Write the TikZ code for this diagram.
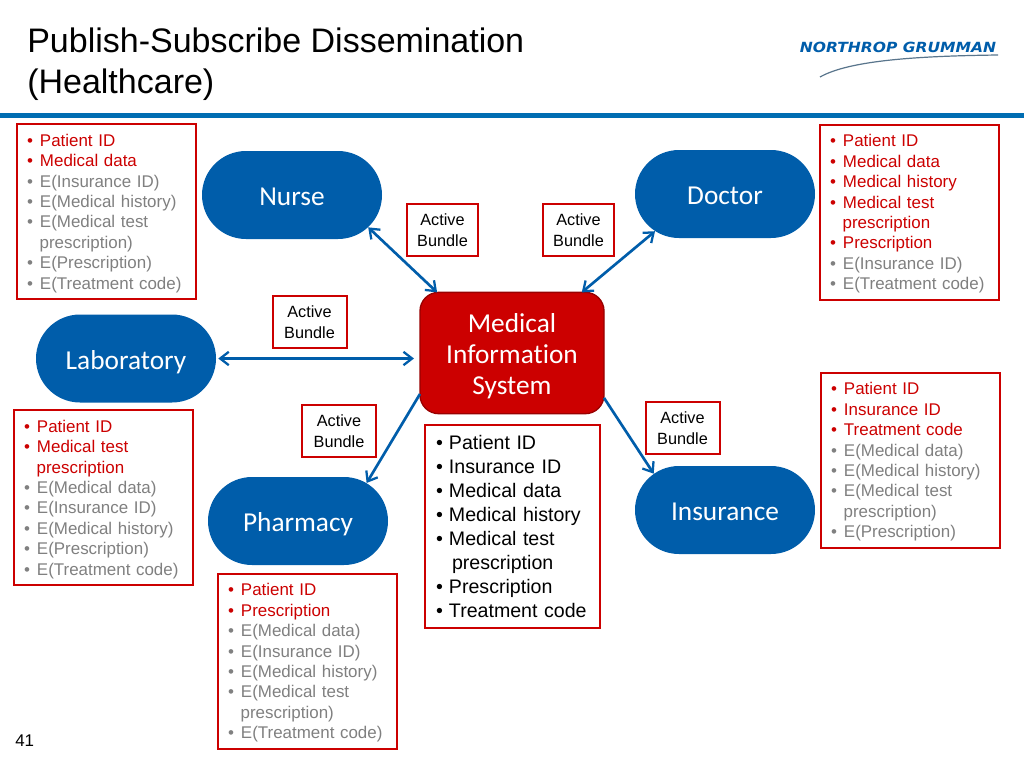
\documentclass[tikz,border=0pt]{standalone}
\usepackage{fontspec}
\setmainfont{Liberation Sans}
\newfontfamily\pillfont[Ligatures=NoCommon]{Carlito}
\newfontfamily\logofont{DejaVu Sans}
\usetikzlibrary{arrows.meta,shapes.misc}
\definecolor{ngblue}{HTML}{005DAA}
\definecolor{rulered}{HTML}{CC0000}
\definecolor{itemgray}{HTML}{808080}
\newcommand{\ri}[1]{{\color{rulered}\textbullet\hspace{5.3pt}#1}}
\newcommand{\gi}[1]{{\color{itemgray}\textbullet\hspace{5.3pt}#1}}
\newcommand{\rc}[1]{\hspace*{9.5pt}{\color{rulered}#1}}
\newcommand{\gc}[1]{\hspace*{9.5pt}{\color{itemgray}#1}}
\newcommand{\bi}[1]{\textbullet\hspace{4.6pt}#1}
\newcommand{\fl}{\rule{0pt}{11.8pt}}
\tikzset{
  pill/.style={rounded rectangle,fill=ngblue,text=white,minimum width=135pt,minimum height=66pt,
    inner sep=0pt,text height=16pt,text depth=0pt,font=\pillfont\fontsize{20.5}{24}\selectfont},
  listbox/.style={draw=rulered,line width=1.5pt,anchor=north west,outer sep=0pt,inner xsep=7.5pt,inner ysep=0pt,
    text width=119.25pt,minimum width=134.25pt,minimum height=131.5pt,align=left,font=\fontsize{12.7}{15.3}\selectfont},
  bundle/.style={draw=rulered,line width=1.5pt,fill=white,align=center,inner sep=0pt,
    minimum height=39pt,font=\fontsize{12.2}{15.3}\selectfont},
  link/.style={ngblue,line width=2pt,>={Straight Barb[length=6.5pt,width=10pt,line width=1.7pt]}}
}
\begin{document}
\begin{tikzpicture}[x=0.75pt,y=-0.75pt]
  \useasboundingbox (0,0) rectangle (1024,768);
  \fill[white] (0,0) rectangle (1024,768);
  % header
  \fill[ngblue!90!cyan] (0,112.5) rectangle (1024,117.5);
  \node[anchor=north west,inner sep=0pt,align=left,font=\fontsize{25.5}{30.8}\selectfont] (title) at (27,28)
    {Publish-Subscribe Dissemination\\(Healthcare)};
  \node[inner sep=0pt,text=ngblue,font=\logofont\fontsize{10.5}{11}\bfseries\itshape\selectfont,xscale=1.11] (logo) at (898,47)
    {NORTHROP GRUMMAN};
  \draw[gray!70!ngblue,line width=0.9pt] (998,55) .. controls (920,56) and (850,60) .. (820,77);
  % center
  \node[draw=rulered!75!black,fill=rulered,line width=1pt,rounded corners=14pt,minimum width=138pt,minimum height=91pt,
    text=white,align=center,inner sep=0pt,outer sep=0pt,font=\pillfont\fontsize{20.5}{23.2}\selectfont] (mis) at (512,353)
    {\rule{0pt}{19pt}Medical\\Information\\System};
  % roles
  \node[pill] (nurse) at (292,195) {Nurse};
  \node[pill] (doctor) at (725,194) {Doctor};
  \node[pill] (lab) at (126,358.5) {Laboratory};
  \node[pill] (pharmacy) at (298,521) {Pharmacy};
  \node[pill] (insurance) at (725,510) {Insurance};
  % connectors
  \draw[link,<->] (nurse.-23.5) -- (mis.141);
  \draw[link,<->] (doctor.-152) -- (mis.41);
  \draw[link,<->,shorten <=1.5pt,shorten >=4.5pt] (lab.east) -- (lab.east -| mis.west);
  \draw[link,->] (mis.204.5) -- (pharmacy.29);
  \draw[link,->] (mis.-26.7) -- (insurance.153.7);
  % active bundles
  \node[bundle,minimum width=53pt] (bnurse) at (442.5,230) {Active\\Bundle};
  \node[bundle,minimum width=53pt] (bdoctor) at (578.5,230) {Active\\Bundle};
  \node[bundle,minimum width=55.5pt] (blab) at (309.5,322) {Active\\Bundle};
  \node[bundle,minimum width=55.5pt] (bpharm) at (339,431) {Active\\Bundle};
  \node[bundle,minimum width=55.5pt] (bins) at (682.5,428) {Active\\Bundle};
  % lists
  \node[listbox] (lnurse) at (17,124)
    {\fl\ri{Patient ID}\\\ri{Medical data}\\\gi{E(Insurance ID)}\\\gi{E(Medical history)}\\\gi{E(Medical test}\\
     \gc{prescription)}\\\gi{E(Prescription)}\\\gi{E(Treatment code)}};
  \node[listbox] (ldoctor) at (820,124.5)
    {\fl\ri{Patient ID}\\\ri{Medical data}\\\ri{Medical history}\\\ri{Medical test}\\
     \rc{prescription}\\\ri{Prescription}\\\gi{E(Insurance ID)}\\\gi{E(Treatment code)}};
  \node[listbox] (lins) at (821,372.5)
    {\fl\ri{Patient ID}\\\ri{Insurance ID}\\\ri{Treatment code}\\\gi{E(Medical data)}\\\gi{E(Medical history)}\\
     \gi{E(Medical test}\\\gc{prescription)}\\\gi{E(Prescription)}};
  \node[listbox] (llab) at (14,410)
    {\fl\ri{Patient ID}\\\ri{Medical test}\\\rc{prescription}\\\gi{E(Medical data)}\\
     \gi{E(Insurance ID)}\\\gi{E(Medical history)}\\\gi{E(Prescription)}\\\gi{E(Treatment code)}};
  \node[listbox] (lpharm) at (218,573.5)
    {\fl\ri{Patient ID}\\\ri{Prescription}\\\gi{E(Medical data)}\\\gi{E(Insurance ID)}\\\gi{E(Medical history)}\\
     \gi{E(Medical test}\\\gc{prescription)}\\\gi{E(Treatment code)}};
  \node[listbox,minimum width=131.25pt,minimum height=152.5pt,inner xsep=8.25pt,text width=114.75pt,
    font=\fontsize{14.7}{18}\selectfont] (lmis) at (425,424.5)
    {\bi{Patient ID}\\\bi{Insurance ID}\\\bi{Medical data}\\\bi{Medical history}\\\bi{Medical test}\\
     \hspace*{12pt}prescription\\\bi{Prescription}\\\bi{Treatment code}};
  \node[anchor=west,inner sep=0pt,font=\fontsize{12.7}{15}\selectfont] (pageno) at (15,741) {41};
\end{tikzpicture}
\end{document}
